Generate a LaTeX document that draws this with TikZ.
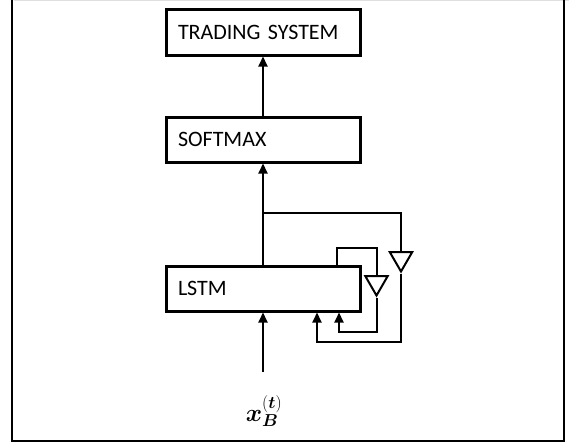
\documentclass[tikz,border=0pt]{standalone}
\usepackage{fontspec}
\usepackage{bm}
\setmainfont{Carlito}
\usetikzlibrary{arrows.meta,shapes.geometric}

\tikzset{
  block/.style={draw, line width=3pt, minimum width=194pt, minimum height=45pt,
    inner xsep=12pt, text width=170pt, align=left,
    font=\fontsize{22}{26}\selectfont},
  gate/.style={draw, line width=2pt, regular polygon, regular polygon sides=3,
    shape border rotate=180, minimum size=26pt, inner sep=0pt},
  wire/.style={line width=2pt},
}

\begin{document}
\begin{tikzpicture}[x=1pt, y=-1pt, >={Triangle[length=10pt,width=9pt]}]
  \useasboundingbox (0,0) rectangle (569,444);

  % --- frame ---
  \draw[gray!25, line width=1pt] (14,0.5) -- (569,0.5);
  \draw[line width=2pt] (12,-5) -- (12,441) -- (564,441) -- (564,-5);

  % --- blocks ---
  \node[block] (trading) at (263,32.5) {TRADING SYSTEM};
  \node[block] (softmax) at (263,139.5) {SOFTMAX};
  \node[block] (lstm) at (263,288.5) {LSTM};

  % --- recurrent gates ---
  \node[gate] (gateA) at (376.5,282.5) {};
  \node[gate] (gateB) at (401,258.5) {};

  \coordinate (split) at (263,213);
  \coordinate (outA) at (401,213);
  \coordinate (outB) at (401,342);
  \coordinate (outC) at (317,342);
  \coordinate (inA) at (337,248);
  \coordinate (inB) at (376.5,248);
  \coordinate (inC) at (376.5,332);
  \coordinate (inD) at (339,332);
  \coordinate (xin) at (263,372);

  % --- forward path ---
  \draw[wire, ->] (softmax) -- (trading);
  \draw[wire, ->] (lstm) -- (softmax);
  \draw[wire, ->] (xin) -- (lstm);
  \node (xlabel) at (264,411) {\fontsize{25}{30}\selectfont$\bm{x}_{\bm{B}}^{(\bm{t})}$};

  % --- feedback loops ---
  \draw[wire] (split) -- (outA) -- (gateB.north);
  \draw[wire, ->] (gateB.south) -- (outB) -- (outC) -- (outC |- lstm.south);
  \draw[wire] (inA |- lstm.north) -- (inA) -- (inB) -- (gateA.north);
  \draw[wire, ->] (gateA.south) -- (inC) -- (inD) -- (inD |- lstm.south);
\end{tikzpicture}
\end{document}
